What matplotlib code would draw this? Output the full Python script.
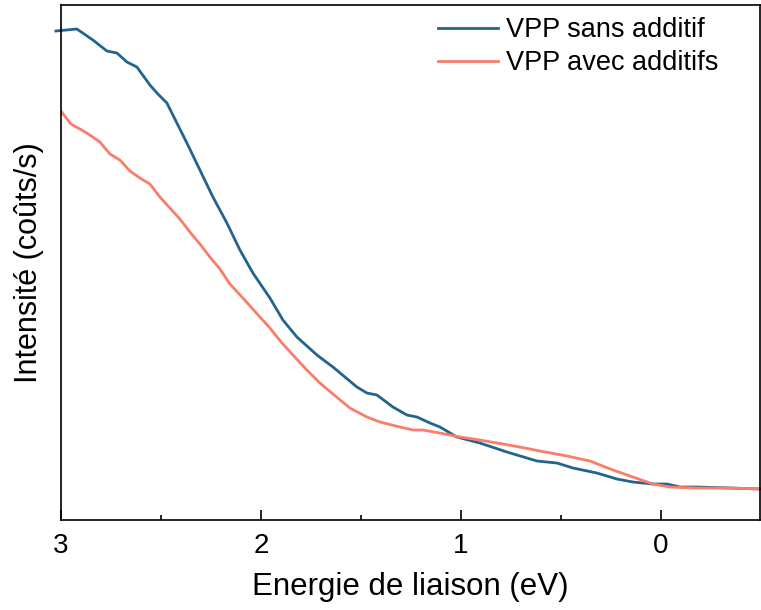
import numpy as np
import matplotlib.pyplot as plt

plt.rcParams['font.family'] = ['Liberation Sans', 'DejaVu Sans']

# energie de liaison (eV) et intensite (u.a.)
x_sans = [3.025, 2.92, 2.84, 2.77, 2.72, 2.67, 2.62, 2.555, 2.515, 2.47, 2.42, 2.37,
          2.305, 2.24, 2.17, 2.105, 2.04, 1.955, 1.89, 1.82, 1.72, 1.64, 1.52, 1.47,
          1.42, 1.34, 1.27, 1.22, 1.155, 1.105, 1.02, 0.905, 0.77, 0.62, 0.52, 0.44,
          0.32, 0.22, 0.14, 0.04, -0.03, -0.095, -0.18, -0.345, -0.5]
y_sans = [489, 491, 480, 469, 467, 458, 453, 435, 426, 417, 397, 377,
          350, 323, 297, 270, 247, 222, 200, 183, 165, 153, 133, 127,
          125, 113, 105, 103, 97, 93, 83, 77, 68, 59, 57, 52,
          47, 41, 38, 36, 36, 33, 33, 32, 31]

x_avec = [3.0, 2.95, 2.905, 2.855, 2.805, 2.755, 2.705, 2.655, 2.605, 2.555, 2.505, 2.455,
          2.405, 2.355, 2.305, 2.255, 2.205, 2.155, 2.09, 2.005, 1.955, 1.895, 1.84, 1.77,
          1.705, 1.64, 1.555, 1.47, 1.405, 1.305, 1.24, 1.19, 1.105, 1.005, 0.905, 0.82,
          0.705, 0.605, 0.47, 0.355, 0.24, 0.14, 0.04, -0.045, -0.18, -0.345, -0.5]
y_avec = [409, 396, 391, 385, 378, 366, 360, 349, 342, 336, 323, 312,
          301, 288, 276, 263, 251, 236, 222, 203, 192, 177, 165, 150,
          137, 126, 112, 103, 98, 93, 90, 90, 87, 83, 80, 77,
          73, 69, 64, 59, 50, 43, 36, 33, 32, 32, 31]

fig, ax = plt.subplots(figsize=(7.61, 6.10), dpi=100)
fig.subplots_adjust(left=0.08, right=0.9987, top=0.9918, bottom=0.1475)

ax.plot(x_sans, y_sans, color='#23648f', linewidth=2.0, label='VPP sans additif', clip_on=False)
ax.plot(x_avec, y_avec, color='#fa7d6a', linewidth=2.0, label='VPP avec additifs')

ax.set_xlim(3, -0.495)
ax.set_ylim(0, 515)
ax.set_xticks([3, 2, 1, 0])
ax.set_xticks([2.5, 1.5, 0.5], minor=True)
ax.set_yticks([])
ax.tick_params(axis='x', which='major', direction='in', length=7, width=1.2, labelsize=20, pad=9)
ax.tick_params(axis='x', which='minor', direction='in', length=3.5, width=1.2)
for s in ax.spines.values():
    s.set_linewidth(1.2)

ax.set_xlabel('Energie de liaison (eV)', fontsize=22.5, labelpad=10)
ax.set_ylabel('Intensité (coûts/s)', fontsize=22, labelpad=12)

ax.legend(loc='upper right', frameon=False, fontsize=19.5, handlelength=2.2,
          handletextpad=0.3, labelspacing=0.25, borderpad=0, borderaxespad=0,
          bbox_to_anchor=(0.94, 0.976))

plt.savefig('out.png')
